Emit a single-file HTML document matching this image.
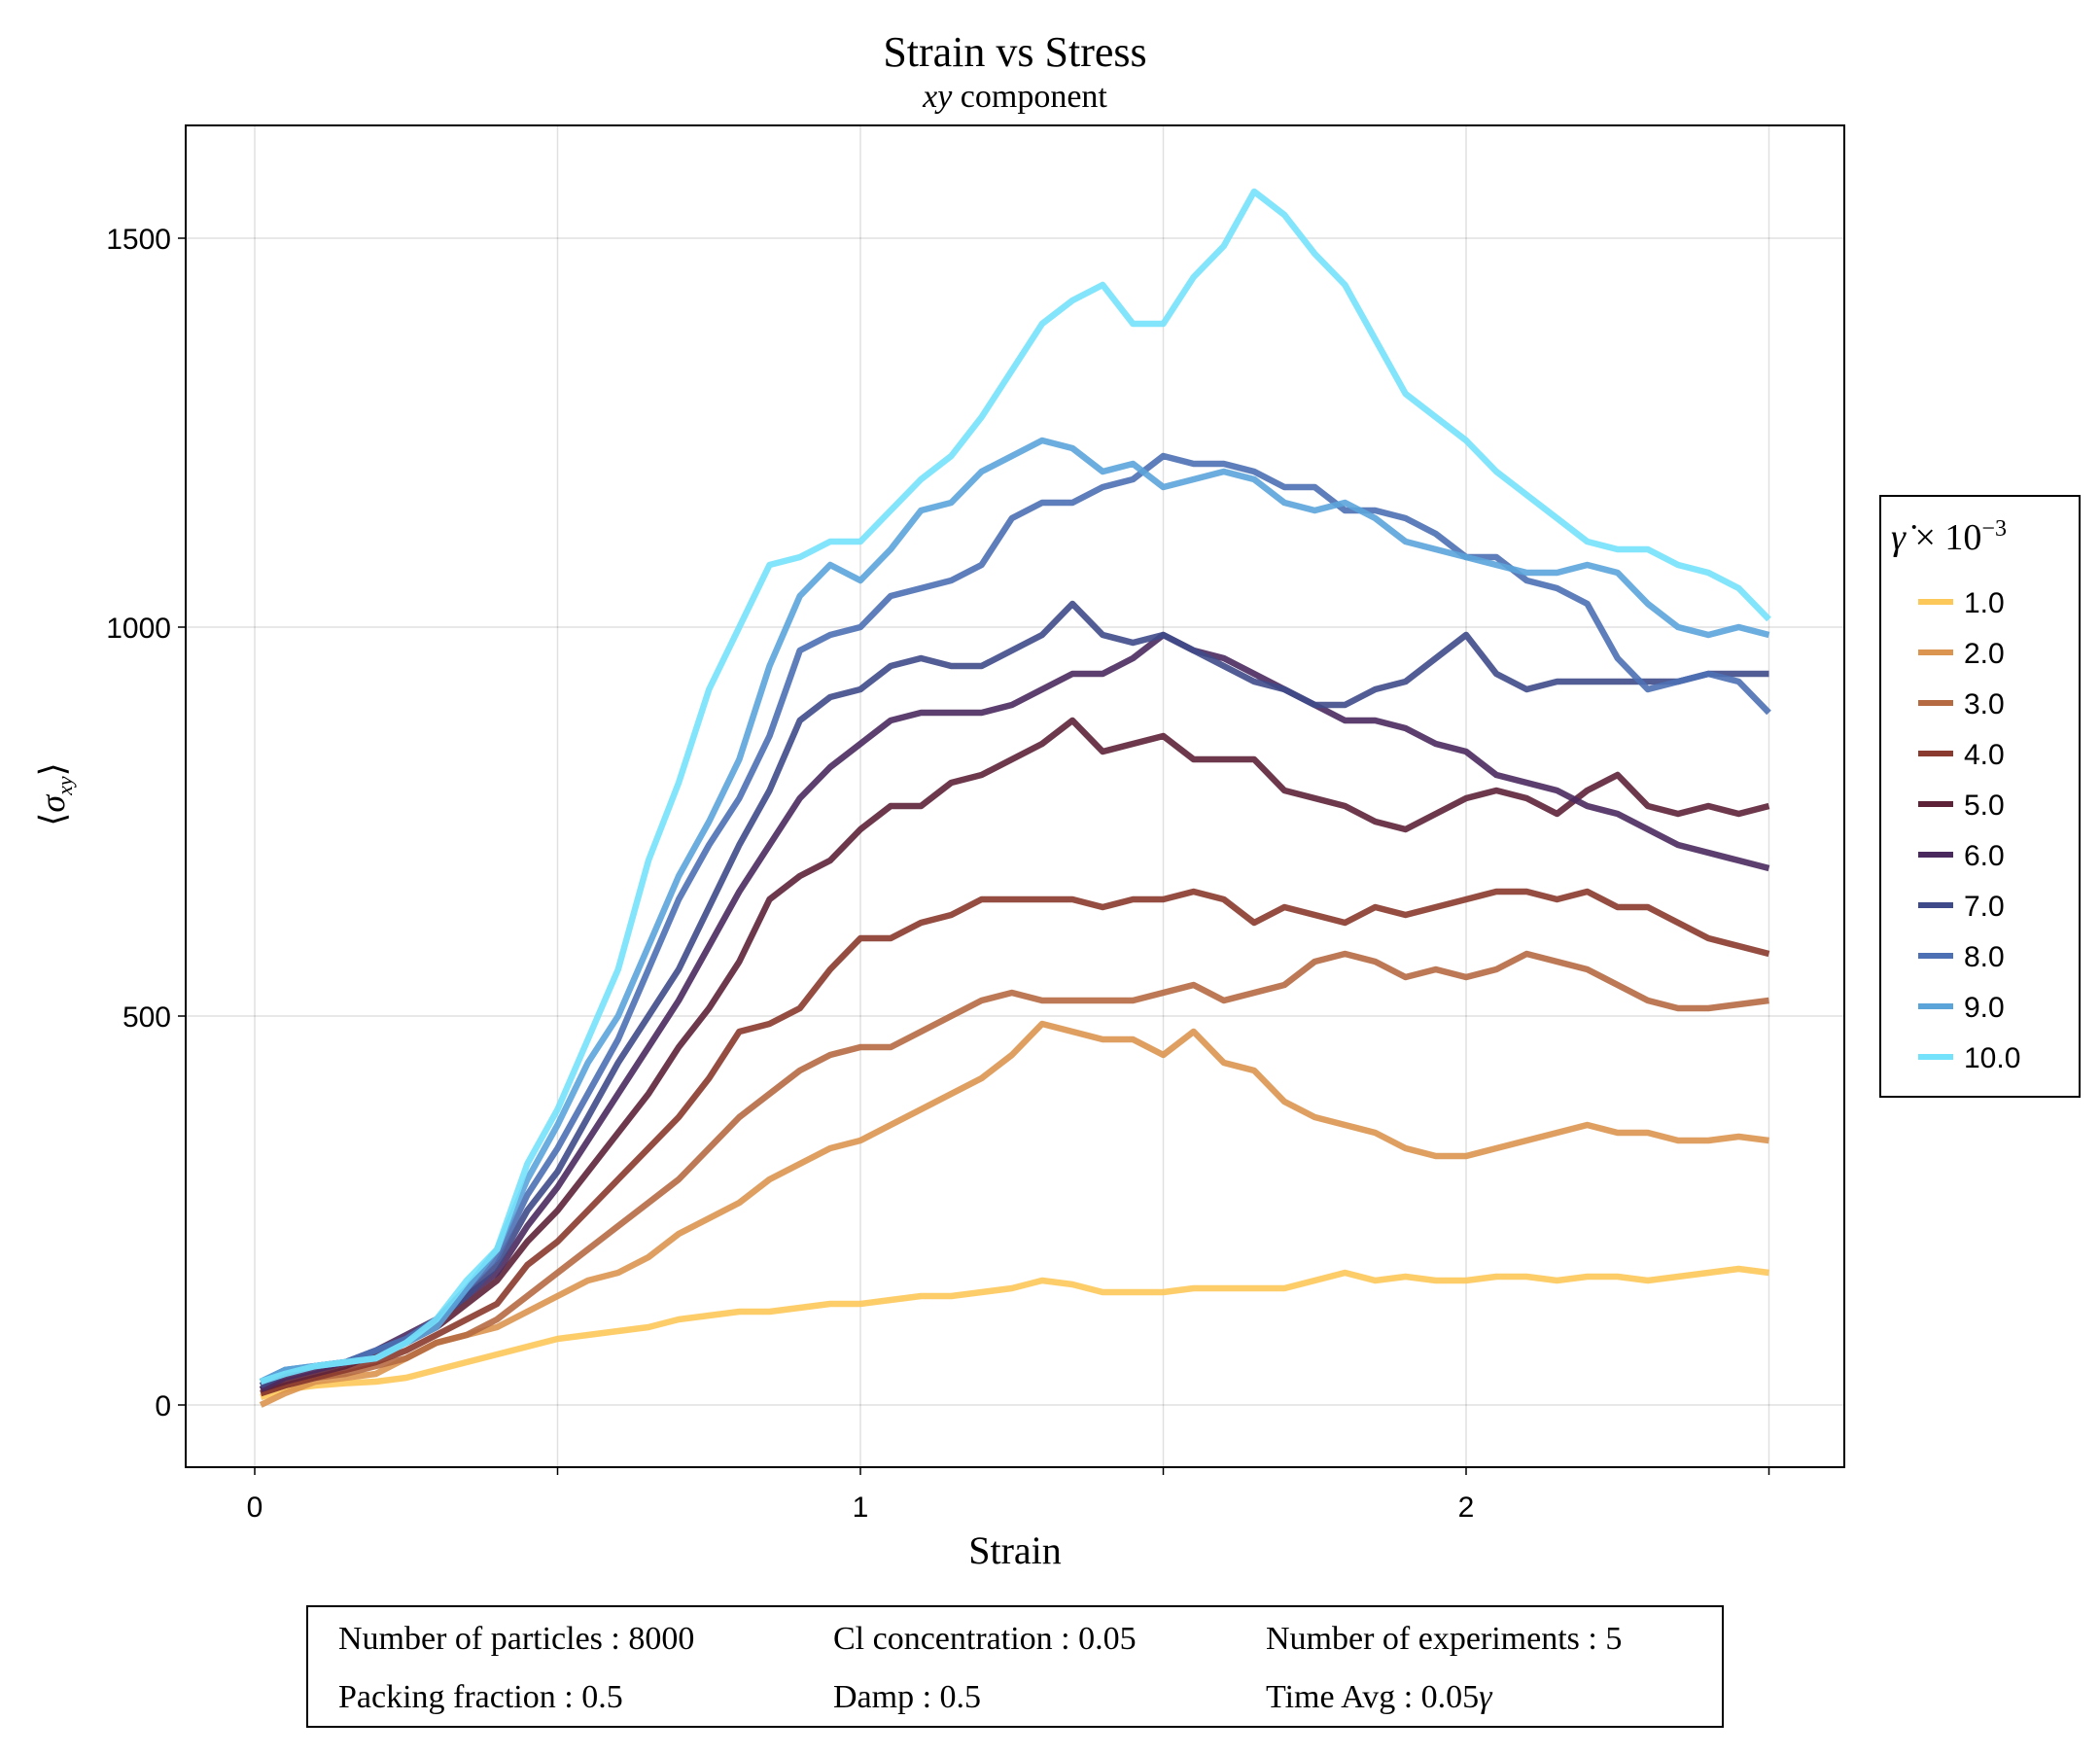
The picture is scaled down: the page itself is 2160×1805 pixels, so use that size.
<!DOCTYPE html>
<html><head><meta charset="utf-8"><style>
body{margin:0;background:#fff;}
svg text{font-family:"Liberation Serif",serif;}
.tk{font-family:"Liberation Sans",sans-serif;font-size:30px;fill:#000;}
</style></head><body>
<svg id="chart" width="2160" height="1800" viewBox="0 0 2160 1800" xmlns="http://www.w3.org/2000/svg">
<rect width="2160" height="1800" fill="#fff"/>
<text x="1044" y="68" font-size="44" text-anchor="middle">Strain vs Stress</text>
<text x="1044" y="110" font-size="34" text-anchor="middle"><tspan font-style="italic">xy</tspan> component</text>
<g id="grid"></g>
<g id="series"></g>
<rect x="191" y="129" width="1706" height="1380" fill="none" stroke="#000" stroke-width="2"/>
<g id="ticks"></g>
<text x="1044" y="1608" font-size="40" text-anchor="middle">Strain</text>
<text transform="translate(66,817) rotate(-90)" font-size="36" text-anchor="middle">⟨<tspan font-style="italic">σ</tspan><tspan font-style="italic" font-size="22" dy="8">xy</tspan><tspan dy="-8">⟩</tspan></text>
<g>
<rect x="1934" y="510" width="205" height="618" fill="#fff" stroke="#000" stroke-width="2"/>
<text x="1945" y="565" font-size="38"><tspan font-style="italic">γ̇</tspan> × 10<tspan font-size="24" dy="-14">−3</tspan></text>
<g id="legend-entries"></g>
</g>
<g>
<rect x="316" y="1652" width="1456" height="124" fill="#fff" stroke="#000" stroke-width="2"/>
<g font-size="34">
<text x="348" y="1696">Number of particles : 8000</text>
<text x="857" y="1696">Cl concentration : 0.05</text>
<text x="1302" y="1696">Number of experiments : 5</text>
<text x="348" y="1756">Packing fraction : 0.5</text>
<text x="857" y="1756">Damp : 0.5</text>
<text x="1302" y="1756">Time Avg : 0.05<tspan font-style="italic">γ</tspan></text>
</g></g>
</svg>
<script>
const strains=[0.01,0.05,0.1,0.15,0.2,0.25,0.3,0.35,0.4,0.45,0.5,0.55,0.6,0.65,0.7,0.75,0.8,0.85,0.9,0.95,1.0,1.05,1.1,1.15,1.2,1.25,1.3,1.35,1.4,1.45,1.5,1.55,1.6,1.65,1.7,1.75,1.8,1.85,1.9,1.95,2.0,2.05,2.1,2.15,2.2,2.25,2.3,2.35,2.4,2.45,2.5];
const labels=["1.0","2.0","3.0","4.0","5.0","6.0","7.0","8.0","9.0","10.0"];
const colors=["#fdc85a","#dc9550","#b66a42","#8a3a2e","#5e2238","#4a2a5e","#3f4a8a","#4d70b4","#5ba4da","#74e2fb"];
const s1=[10,20,25,28,30,35,45,55,65,75,85,90,95,100,110,115,120,120,125,130,130,135,140,140,145,150,160,155,145,145,145,150,150,150,150,160,170,160,165,160,160,165,165,160,165,165,160,165,170,175,170];
const s2=[0,15,30,35,40,60,80,90,100,120,140,160,170,190,220,240,260,290,310,330,340,360,380,400,420,450,490,480,470,470,450,480,440,430,390,370,360,350,330,320,320,330,340,350,360,350,350,340,340,345,340];
const s3=[15,25,35,40,50,60,80,90,110,140,170,200,230,260,290,330,370,400,430,450,460,460,480,500,520,530,520,520,520,520,530,540,520,530,540,570,580,570,550,560,550,560,580,570,560,540,520,510,510,515,520];
const s4=[15,25,35,45,55,70,90,110,130,180,210,250,290,330,370,420,480,490,510,560,600,600,620,630,650,650,650,650,640,650,650,660,650,620,640,630,620,640,630,640,650,660,660,650,660,640,640,620,600,590,580];
const s5=[20,30,40,50,65,80,100,130,160,210,250,300,350,400,460,510,570,650,680,700,740,770,770,800,810,830,850,880,840,850,860,830,830,830,790,780,770,750,740,760,780,790,780,760,790,810,770,760,770,760,770];
const s6=[20,35,45,55,70,90,110,140,170,230,280,340,400,460,520,590,660,720,780,820,850,880,890,890,890,900,920,940,940,960,990,970,960,940,920,900,880,880,870,850,840,810,800,790,770,760,740,720,710,700,690];
const s7=[25,40,50,55,70,85,110,140,180,250,300,370,440,500,560,640,720,790,880,910,920,950,960,950,950,970,990,1030,990,980,990,970,950,930,920,900,900,920,930,960,990,940,920,930,930,930,930,930,940,940,940];
const s8=[30,45,50,55,70,85,110,150,190,270,330,400,470,560,650,720,780,860,970,990,1000,1040,1050,1060,1080,1140,1160,1160,1180,1190,1220,1210,1210,1200,1180,1180,1150,1150,1140,1120,1090,1090,1060,1050,1030,960,920,930,940,930,890];
const s9=[30,45,50,55,60,80,100,150,200,290,360,440,500,590,680,750,830,950,1040,1080,1060,1100,1150,1160,1200,1220,1240,1230,1200,1210,1180,1190,1200,1190,1160,1150,1160,1140,1110,1100,1090,1080,1070,1070,1080,1070,1030,1000,990,1000,990];
const s10=[30,40,50,55,60,80,110,160,200,310,380,470,560,700,800,920,1000,1080,1090,1110,1110,1150,1190,1220,1270,1330,1390,1420,1440,1390,1390,1450,1490,1560,1530,1480,1440,1370,1300,1270,1240,1200,1170,1140,1110,1100,1100,1080,1070,1050,1010];
const series=[s1,s2,s3,s4,s5,s6,s7,s8,s9,s10];
const xTicks=[0,1,2];
const xMinor=[0.5,1.5,2.5];
const yTicks=[0,500,1000,1500];
const NS="http://www.w3.org/2000/svg";
const X=v=>262+623*v;
const Y=v=>1445-0.8*v;
function mk(tag,attrs,parent){const e=document.createElementNS(NS,tag);for(const k in attrs)e.setAttribute(k,attrs[k]);parent.appendChild(e);return e;}
const grid=document.getElementById('grid'),ticks=document.getElementById('ticks');
xTicks.concat(xMinor).forEach(t=>{const l=mk('line',{x1:X(t),x2:X(t),y1:129,y2:1509,stroke:'#000','stroke-opacity':0.12,'stroke-width':1.5},grid);


const tk=mk('line',{x1:X(t),x2:X(t),y1:1509,y2:1517,stroke:'#000','stroke-width':1.5},ticks);

});
xTicks.forEach(t=>{const tx=mk('text',{x:X(t),y:1560,'text-anchor':'middle',class:'tk'},ticks);tx.textContent=t;

});
yTicks.forEach(t=>{const l=mk('line',{x1:191,x2:1897,y1:Y(t),y2:Y(t),stroke:'#000','stroke-opacity':0.12,'stroke-width':1.5},grid);


const tk=mk('line',{x1:183,x2:191,y1:Y(t),y2:Y(t),stroke:'#000','stroke-width':1.5},ticks);


const tx=mk('text',{x:176,y:Y(t)+11,'text-anchor':'end',class:'tk'},ticks);tx.textContent=t;

});
const sg=document.getElementById('series'),lg=document.getElementById('legend-entries');
series.forEach((s,i)=>{const pts=s.map((v,j)=>X(strains[j]).toFixed(1)+','+Y(v).toFixed(1)).join(' ');
const p=mk('polyline',{points:pts,fill:'none',stroke:colors[i],'stroke-width':6.5,'stroke-opacity':0.9,'stroke-linejoin':'round'},sg);


const y=619+i*52;
const ll=mk('line',{x1:1973,x2:2009,y1:y,y2:y,stroke:colors[i],'stroke-width':6},lg);


const lt=mk('text',{x:2020,y:y+11,class:'tk'},lg);lt.textContent=labels[i];

});
</script>
</body></html>
